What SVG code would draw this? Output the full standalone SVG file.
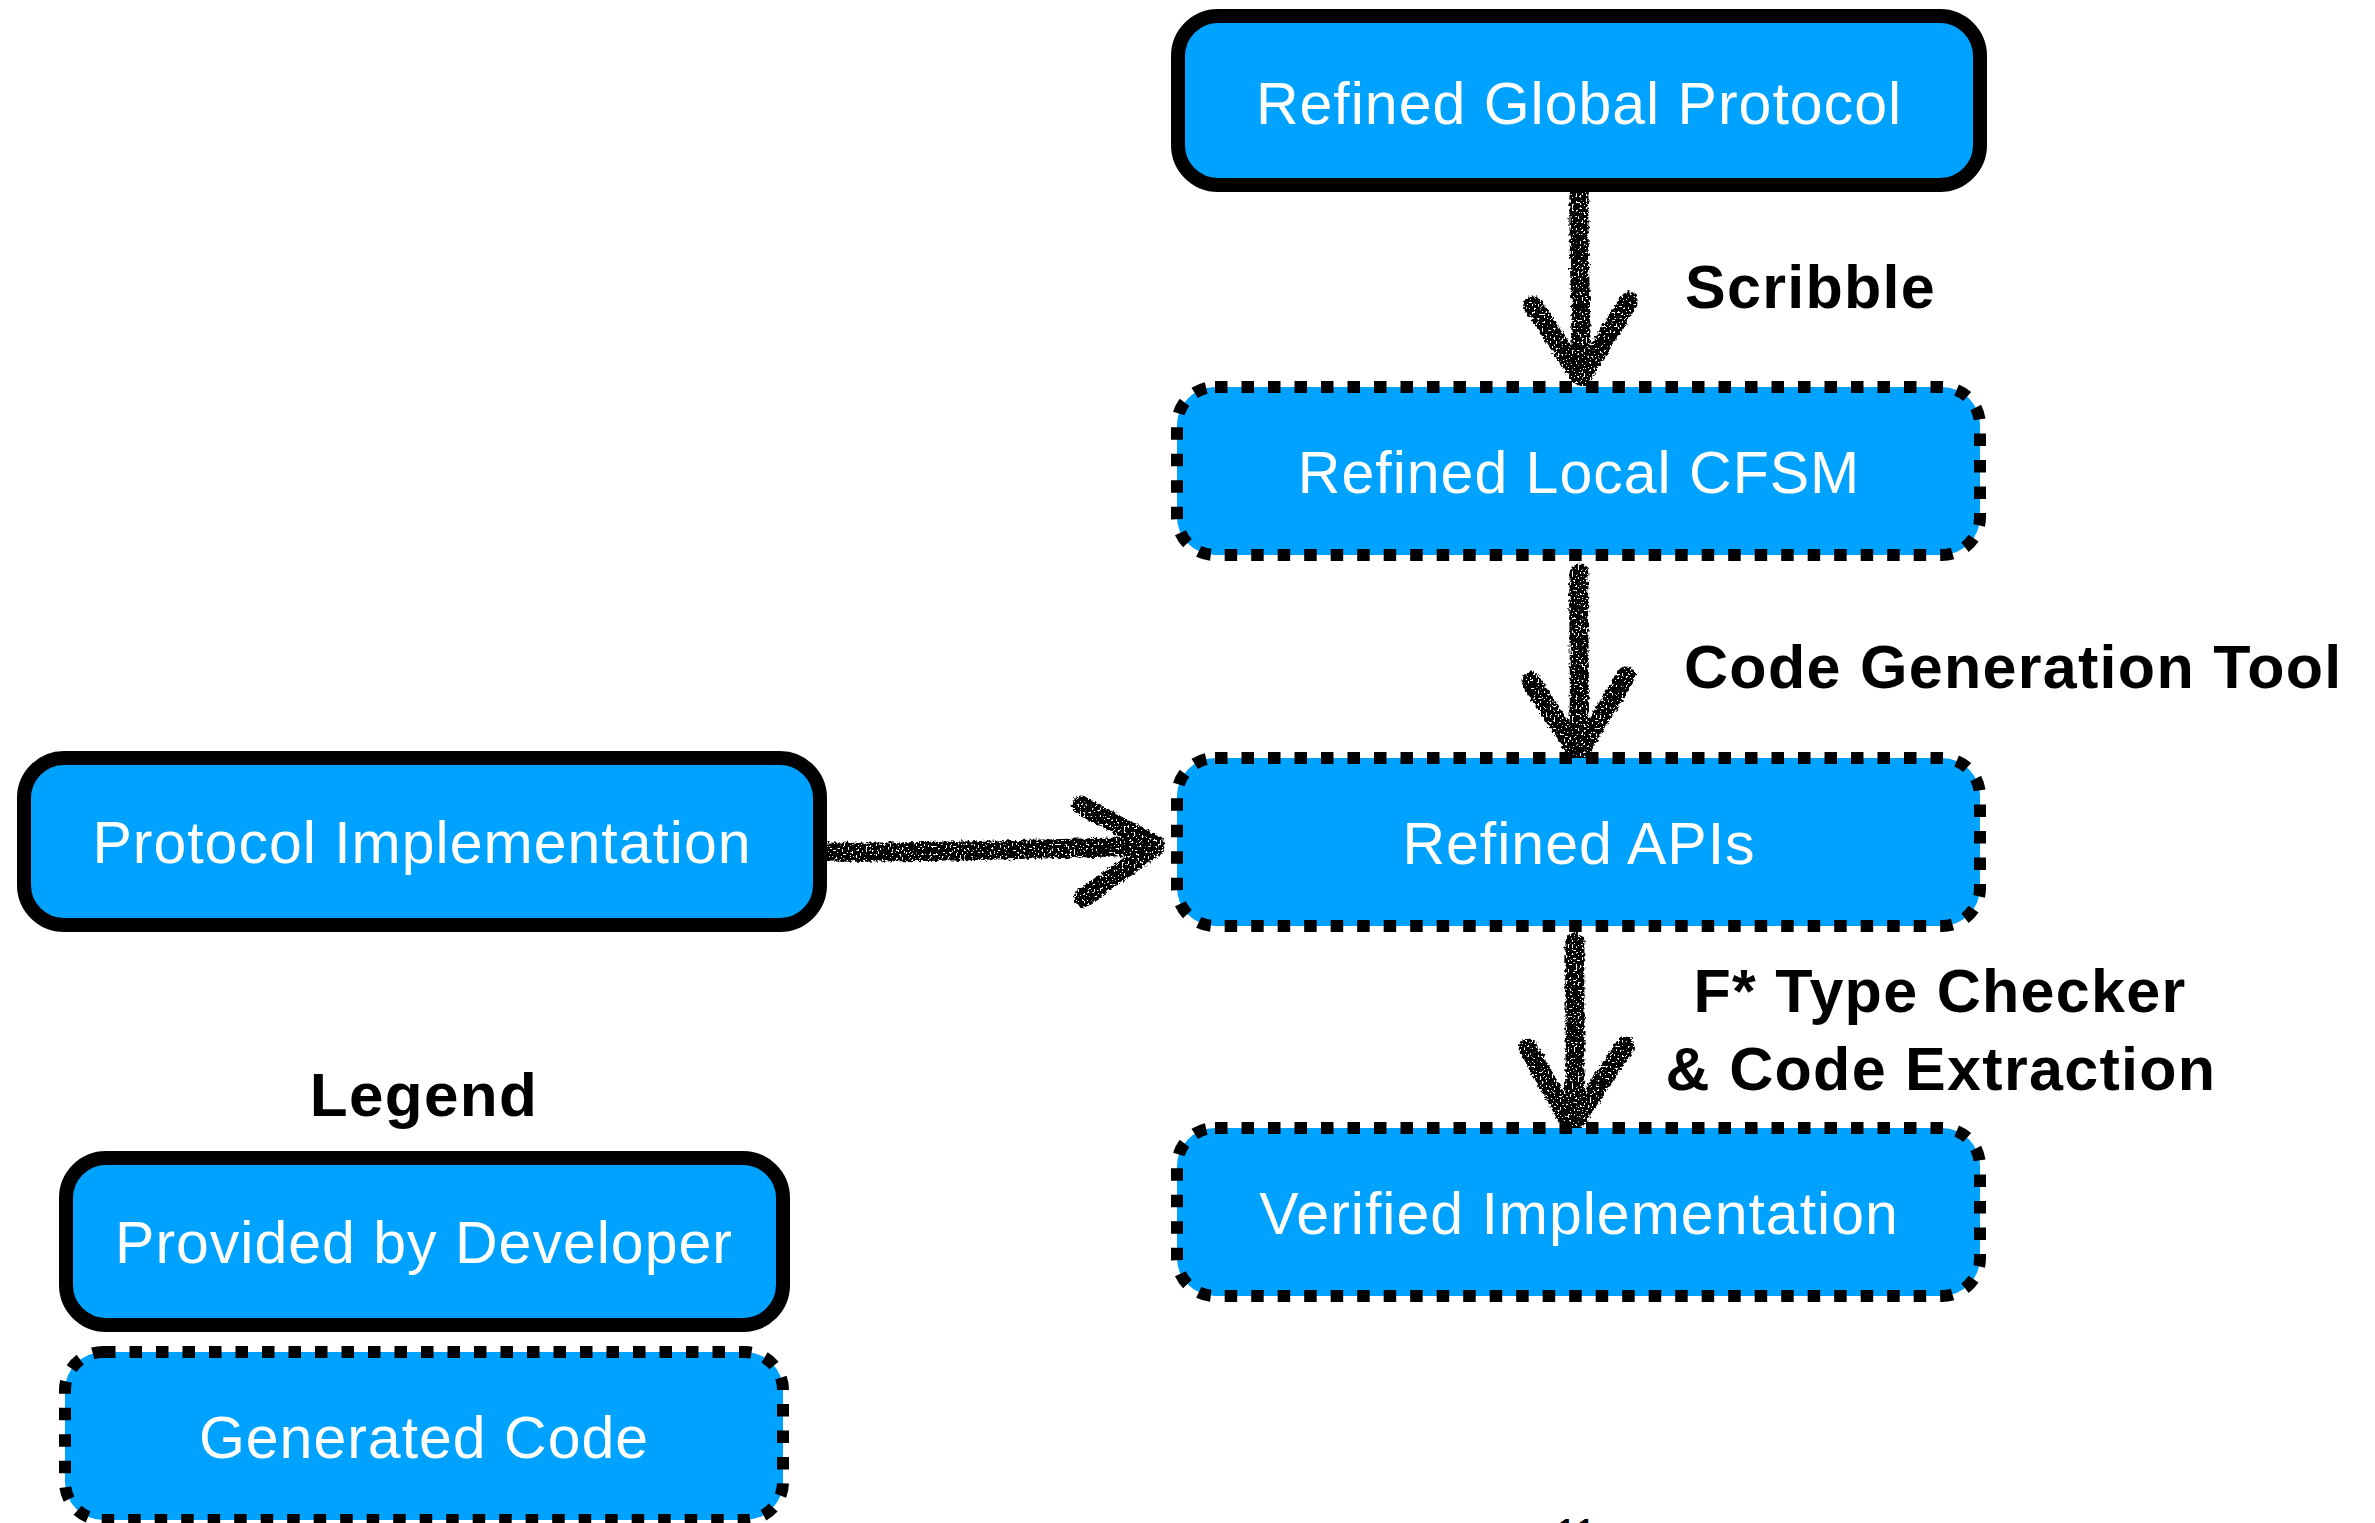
<svg xmlns="http://www.w3.org/2000/svg" width="2375" height="1523" viewBox="0 0 2375 1523">
  <defs>
    <style>
      .box { fill: #00A2FF; stroke: #000; }
      .solid { stroke-width: 14; }
      .dotted { stroke-width: 12; stroke-dasharray: 12.5 14; }
      .name { font-family: "Liberation Sans", Arial, sans-serif; font-size: 59px; fill: #fff; text-anchor: middle; letter-spacing: 1px; }
      .label { font-family: "Liberation Sans", Arial, sans-serif; font-size: 61px; font-weight: bold; fill: #000; letter-spacing: 1.3px; }
      .mid { text-anchor: middle; }
      .stroke { fill: none; stroke: #000; stroke-width: 19; stroke-linecap: round; stroke-linejoin: round; }
    </style>
    <!-- rough chalk texture for the hand-drawn arrows -->
    <filter id="chalk" filterUnits="userSpaceOnUse" x="0" y="0" width="2375" height="1523" color-interpolation-filters="sRGB">
      <feTurbulence type="fractalNoise" baseFrequency="0.3" numOctaves="2" seed="4" result="n1"/>
      <feDisplacementMap in="SourceGraphic" in2="n1" scale="6" xChannelSelector="R" yChannelSelector="G" result="rough"/>
      <feTurbulence type="fractalNoise" baseFrequency="0.5" numOctaves="2" seed="9" result="n2"/>
      <feColorMatrix in="n2" type="matrix" values="0 0 0 0 0  0 0 0 0 0  0 0 0 0 0  -25 0 0 0 16.5" result="holes"/>
      <feComposite in="rough" in2="holes" operator="in"/>
    </filter>
  </defs>

  <rect width="2375" height="1523" fill="#fff"/>

  <!-- connectors -->
  <g id="connectors" filter="url(#chalk)">
    <g id="edge-global-local">
      <path class="stroke" d="M1579,195 C1578,250 1582,320 1581,372"/>
      <path class="stroke" d="M1533,305 L1580,376"/>
      <path class="stroke" d="M1629,301 L1582,376"/>
    </g>
    <g id="edge-local-apis">
      <path class="stroke" d="M1579,573 C1578,630 1581,700 1578,748"/>
      <path class="stroke" d="M1531,681 L1577,752"/>
      <path class="stroke" d="M1626,676 L1579,752"/>
    </g>
    <g id="edge-apis-verified">
      <path class="stroke" d="M1575,942 C1574,1000 1577,1070 1573,1120"/>
      <path class="stroke" d="M1528,1048 L1571,1124"/>
      <path class="stroke" d="M1625,1046 L1573,1124"/>
    </g>
    <g id="edge-impl-apis">
      <path class="stroke" d="M828,852 C900,853 1050,849 1152,846"/>
      <path class="stroke" d="M1081,805 L1155,845"/>
      <path class="stroke" d="M1083,898 L1155,847"/>
    </g>
  </g>

  <!-- edge labels -->
  <g id="edge-labels">
    <text class="label" x="1685" y="308">Scribble</text>
    <text class="label" x="1684" y="688">Code Generation Tool</text>
    <text class="label mid" x="1940" y="1012">F* Type Checker</text>
    <text class="label mid" x="1941" y="1090">&amp; Code Extraction</text>
  </g>

  <!-- pipeline nodes -->
  <g id="global-protocol">
    <rect class="box solid" x="1178" y="16" width="802" height="169" rx="40"/>
    <text class="name" x="1579" y="124">Refined Global Protocol</text>
  </g>
  <g id="local-cfsm">
    <rect class="box dotted" x="1177" y="387" width="803" height="168" rx="38"/>
    <text class="name" x="1579" y="493">Refined Local CFSM</text>
  </g>
  <g id="refined-apis">
    <rect class="box dotted" x="1177" y="758" width="803" height="168" rx="38"/>
    <text class="name" x="1579" y="864">Refined APIs</text>
  </g>
  <g id="verified-impl">
    <rect class="box dotted" x="1177" y="1128" width="803" height="168" rx="38"/>
    <text class="name" x="1579" y="1234">Verified Implementation</text>
  </g>
  <g id="protocol-impl">
    <rect class="box solid" x="24" y="758" width="796" height="167" rx="40"/>
    <text class="name" x="422" y="863">Protocol Implementation</text>
  </g>

  <!-- legend -->
  <g id="legend">
    <text class="label mid" x="424" y="1116" style="font-size:62px">Legend</text>
    <g id="legend-developer">
      <rect class="box solid" x="66" y="1158" width="717" height="167" rx="40"/>
      <text class="name" x="424" y="1263">Provided by Developer</text>
    </g>
    <g id="legend-generated">
      <rect class="box dotted" x="65" y="1352" width="718" height="168" rx="38"/>
      <text class="name" x="424" y="1458">Generated Code</text>
    </g>
  </g>

  <!-- page number, mostly below the bottom edge -->
  <text x="1576" y="1547" font-family="Liberation Sans, Arial, sans-serif" font-size="40" text-anchor="middle" fill="#000">11</text>
</svg>
